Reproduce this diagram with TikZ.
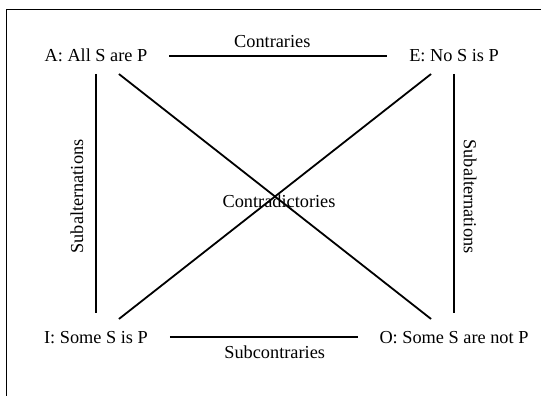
\documentclass[tikz,border=0pt]{standalone}
\usepackage{fontspec}
\setmainfont{Liberation Serif}
\begin{document}
\begin{tikzpicture}[x=1pt, y=-1pt, font=\fontsize{18.3}{22}\selectfont, line join=round,
	prop/.style={inner sep=0pt, text height=12pt, text depth=0pt, outer xsep=22pt, outer ysep=12pt},
	lbl/.style={inner sep=0pt, text height=12pt, text depth=0pt},
	link/.style={line width=1.8pt}]
	\useasboundingbox (0,0) rectangle (541,396);
	\draw[line width=1pt] (541,9.5) -- (6,9.5) -- (6,396);
	% the four propositions
	\node[prop, anchor=base] (A) at (96,62) {A: All S are P};
	\node[prop, anchor=base] (E) at (454,62) {E: No S is P};
	\node[prop, anchor=base] (I) at (96,343) {I: Some S is P};
	\node[prop, anchor=base] (O) at (454,343) {O: Some S are not P};
	\draw[link] (A) -- node[lbl, above=8pt, xshift=-6pt] (contr) {Contraries} (E);
	\draw[link] (I) -- node[lbl, below=9pt, xshift=11pt] (subcontr) {Subcontraries} (O);
	\draw[link, shorten >=6pt] (A) -- node[lbl, rotate=90, anchor=south, inner ysep=12pt] (subl) {Subalternations} (I);
	\draw[link, shorten >=6pt] (E) -- node[lbl, rotate=-90, anchor=south, inner ysep=9pt] (subr) {Subalternations} (O);
	\draw[link] (A) -- (O);
	\draw[link] (E) -- (I);
	\node[lbl, anchor=base] (contrad) at (279,207) {Contradictories};
\end{tikzpicture}
\end{document}
